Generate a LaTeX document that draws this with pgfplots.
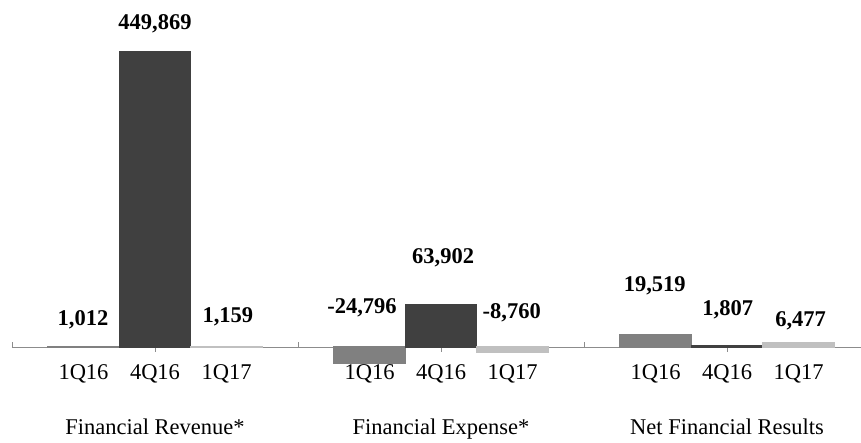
\documentclass[border=0pt]{standalone}
\usepackage{fontspec}
\setmainfont{Liberation Serif}
\usepackage{pgfplots}
\pgfplotsset{compat=1.18}
\definecolor{cA}{HTML}{808080}
\definecolor{cB}{HTML}{404040}
\definecolor{cC}{HTML}{C0C0C0}
\definecolor{axc}{HTML}{8C8C8C}
\begin{document}
\fontsize{22.5}{27}\selectfont
\begin{tikzpicture}
\path[use as bounding box] (0,0) rectangle (861pt,442pt);
\begin{axis}[
  at={(12pt,55.66pt)}, anchor=south west,
  scale only axis, width=849pt, height=334.34pt,
  xmin=0, xmax=11.874, ymin=-60000, ymax=449869,
  axis y line=none,
  axis x line*=middle,
  x axis line style={axc, line width=0.8pt},
  clip=false,
  xtick align=center,
  xtick={1,2,3,5,6,7,9,10,11},
  xticklabels={1Q16,4Q16,1Q17,1Q16,4Q16,1Q17,1Q16,4Q16,1Q17},
  major tick length=0pt,
  xticklabel style={anchor=base, yshift=-33pt},
  minor xtick={0,4,8},
  minor tick length=5pt,
  minor tick style={axc, line width=0.8pt, yshift=2.5pt},
  extra x ticks={2,6,10},
  extra x tick labels={Financial Revenue*, Financial Expense*, Net Financial Results},
  extra x tick style={major tick length=5pt,
    major tick style={axc, line width=0.8pt, yshift=-2.5pt},
    xticklabel style={yshift=-52pt}},
]
\addplot[ybar, bar width=1, bar shift=0pt, fill=cA, draw=cA, line width=1.2pt]
  coordinates {(1,1012) (5,-24796) (9,19519)};
\addplot[ybar, bar width=1, bar shift=0pt, fill=cB, draw=cB, line width=1.2pt]
  coordinates {(2,449869) (6,63902) (10,1807)};
\addplot[ybar, bar width=1, bar shift=0pt, fill=cC, draw=cC, line width=1.2pt]
  coordinates {(3,1159) (7,-8760) (11,6477)};
\addplot[draw=none, mark=none, nodes near coords, point meta=explicit symbolic,
  every node near coord/.append style={anchor=center, font=\bfseries, text=black}]
  table[meta=lab] {
x y lab
0.993 41200 1,012
2.0 492600 449,869
3.02 45750 1,159
4.895 59500 -24,796
6.03 135700 63,902
6.99 51850 -8,760
8.99 93000 19,519
10.01 56400 1,807
11.03 39650 6,477
};
\end{axis}
\end{tikzpicture}
\end{document}
